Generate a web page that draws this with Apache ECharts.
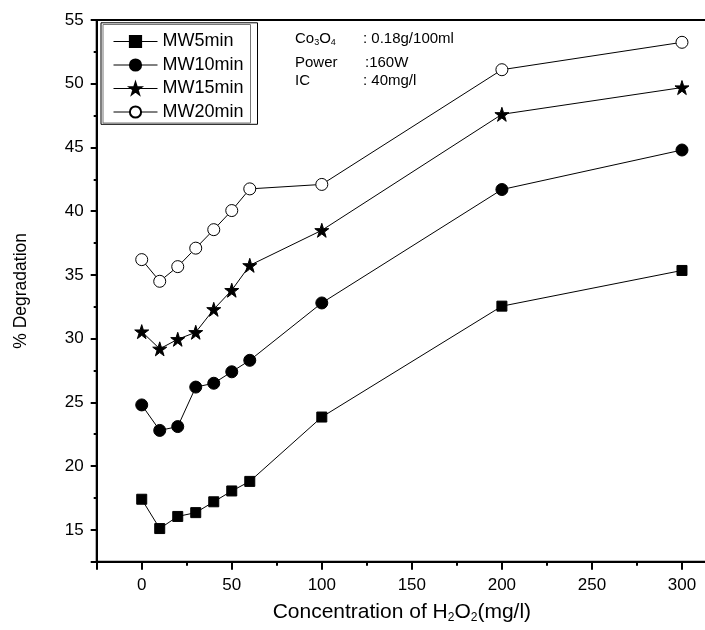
<!DOCTYPE html>
<html>
<head>
<meta charset="utf-8">
<script src="https://cdn.jsdelivr.net/npm/echarts@6/dist/echarts.min.js"></script>
<style>
  html, body { margin: 0; padding: 0; background: #fff; }
  #chart { width: 705px; height: 630px; }
</style>
</head>
<body>
<div id="chart"></div>
<script>
// H2O2 concentration (mg/l)
var concentrations = [0, 10, 20, 30, 40, 50, 60, 100, 200, 300];

// % degradation for each microwave time
var mw5 = [17.4, 15.1, 16.05, 16.35, 17.2, 18.05, 18.8, 23.85, 32.55, 35.35];
var mw10 = [24.8, 22.8, 23.1, 26.2, 26.5, 27.4, 28.3, 32.8, 41.7, 44.8];
var mw15 = [30.55, 29.2, 29.95, 30.5, 32.3, 33.8, 35.75, 38.5, 47.6, 49.7];
var mw20 = [36.2, 34.5, 35.65, 37.1, 38.55, 40.05, 41.75, 42.1, 51.1, 53.25];

var seriesNames = ["MW5min", "MW10min", "MW15min", "MW20min"];

var FONT = "Liberation Sans, Arial, sans-serif";
var STAR = "path://M50,0 L61.2,34.5 L97.6,34.5 L68.2,55.9 L79.4,90.5 L50,69.1 L20.6,90.5 L31.8,55.9 L2.4,34.5 L38.8,34.5 Z";

function pairs(ys) {
    return concentrations.map(function (x, i) { return [x, ys[i]]; });
}

function lineSeries(name, ys, symbol, size, fill) {
    return {
        name: name,
        type: "line",
        data: pairs(ys),
        symbol: symbol,
        symbolSize: size,
        showAllSymbol: true,
        lineStyle: { color: "#000", width: 1 },
        itemStyle: { color: fill, borderColor: "#000", borderWidth: 1 },
        emphasis: { disabled: true },
        animation: false,
        z: 3,
    };
}

var chart = echarts.init(document.getElementById("chart"));

chart.setOption({
    backgroundColor: "#fff",
    animation: false,
    grid: {
        left: 96.7,
        top: 20,
        right: -22,
        bottom: 68.3,
        outerBoundsMode: "none",
        containLabel: false,
        show: true,
        borderColor: "#000",
        borderWidth: 2,
        backgroundColor: "transparent",
    },
    xAxis: {
        type: "value",
        min: -25,
        max: 325,
        splitNumber: 7,
        name: "Concentration of H{sub|2}O{sub|2}(mg/l)",
        nameLocation: "middle",
        nameGap: 40,
        nameTextStyle: {
            fontFamily: FONT,
            fontSize: 21,
            color: "#000",
            padding: [0, 20, 0, 0],
            rich: {
                sub: { fontFamily: FONT, fontSize: 12, color: "#000", verticalAlign: "bottom", padding: [10, 0, 0, 0] },
            },
        },
        axisLine: { onZero: false, lineStyle: { color: "#000", width: 2 } },
        axisTick: { show: true, inside: false, length: 8, lineStyle: { color: "#000", width: 2 } },
        minorTick: { show: true, splitNumber: 2, length: 4, lineStyle: { color: "#000", width: 2 } },
        splitLine: { show: false },
        axisLabel: {
            margin: 15,
            fontFamily: FONT,
            fontSize: 17,
            color: "#000",
            formatter: function (v) { return v % 50 === 0 ? String(v) : ""; },
        },
    },
    yAxis: {
        type: "value",
        min: 12.5,
        max: 55,
        splitNumber: 8,
        name: "% Degradation",
        nameLocation: "middle",
        nameRotate: 90,
        nameGap: 67,
        nameTextStyle: { fontFamily: FONT, fontSize: 17.5, color: "#000" },
        axisLine: { onZero: false, lineStyle: { color: "#000", width: 2 } },
        axisTick: { show: true, inside: false, length: 6, lineStyle: { color: "#000", width: 2 } },
        minorTick: { show: true, splitNumber: 2, length: 3, lineStyle: { color: "#000", width: 2 } },
        splitLine: { show: false },
        axisLabel: {
            margin: 13,
            fontFamily: FONT,
            fontSize: 17,
            color: "#000",
            formatter: function (v) { return v % 5 === 0 ? String(v) : ""; },
        },
    },
    legend: {
        data: seriesNames,
        orient: "vertical",
        left: 103,
        top: 24.5,
        padding: [8, 7, 2, 10],
        itemWidth: 44,
        itemHeight: 14,
        itemGap: 5.5,
        borderColor: "#777",
        borderWidth: 1,
        backgroundColor: "#fff",
        selectedMode: false,
        lineStyle: { width: 1 },
        textStyle: { fontFamily: FONT, fontSize: 18, color: "#000", lineHeight: 18 },
    },
    graphic: [
        {
            type: "rect",
            shape: { x: 101, y: 22.8, width: 156.5, height: 101.5 },
            style: { fill: "none", stroke: "#000", lineWidth: 1 },
            z: 200,
            silent: true,
        },
        {
            type: "text",
            left: 295,
            top: 31,
            style: {
                text: "Co{sub|3}O{sub|4}",
                font: "15px " + FONT,
                fill: "#000",
                rich: { sub: { fontSize: 9, fontFamily: FONT, fill: "#000", padding: [9, 0, 0, 0] } },
            },
        },
        { type: "text", left: 363, top: 31.5, style: { text: ": 0.18g/100ml", font: "15px " + FONT, fill: "#000" } },
        { type: "text", left: 295, top: 55, style: { text: "Power", font: "15px " + FONT, fill: "#000" } },
        { type: "text", left: 365, top: 55, style: { text: ":160W", font: "15px " + FONT, fill: "#000" } },
        { type: "text", left: 295, top: 73.5, style: { text: "IC", font: "15px " + FONT, fill: "#000" } },
        { type: "text", left: 363, top: 73.5, style: { text: ": 40mg/l", font: "15px " + FONT, fill: "#000" } },
    ],
    series: [
        lineSeries(seriesNames[0], mw5, "rect", 10, "#000"),
        lineSeries(seriesNames[1], mw10, "circle", 12, "#000"),
        lineSeries(seriesNames[2], mw15, STAR, 14, "#000"),
        lineSeries(seriesNames[3], mw20, "circle", 12, "#fff"),
    ],
});
</script>
</body>
</html>
